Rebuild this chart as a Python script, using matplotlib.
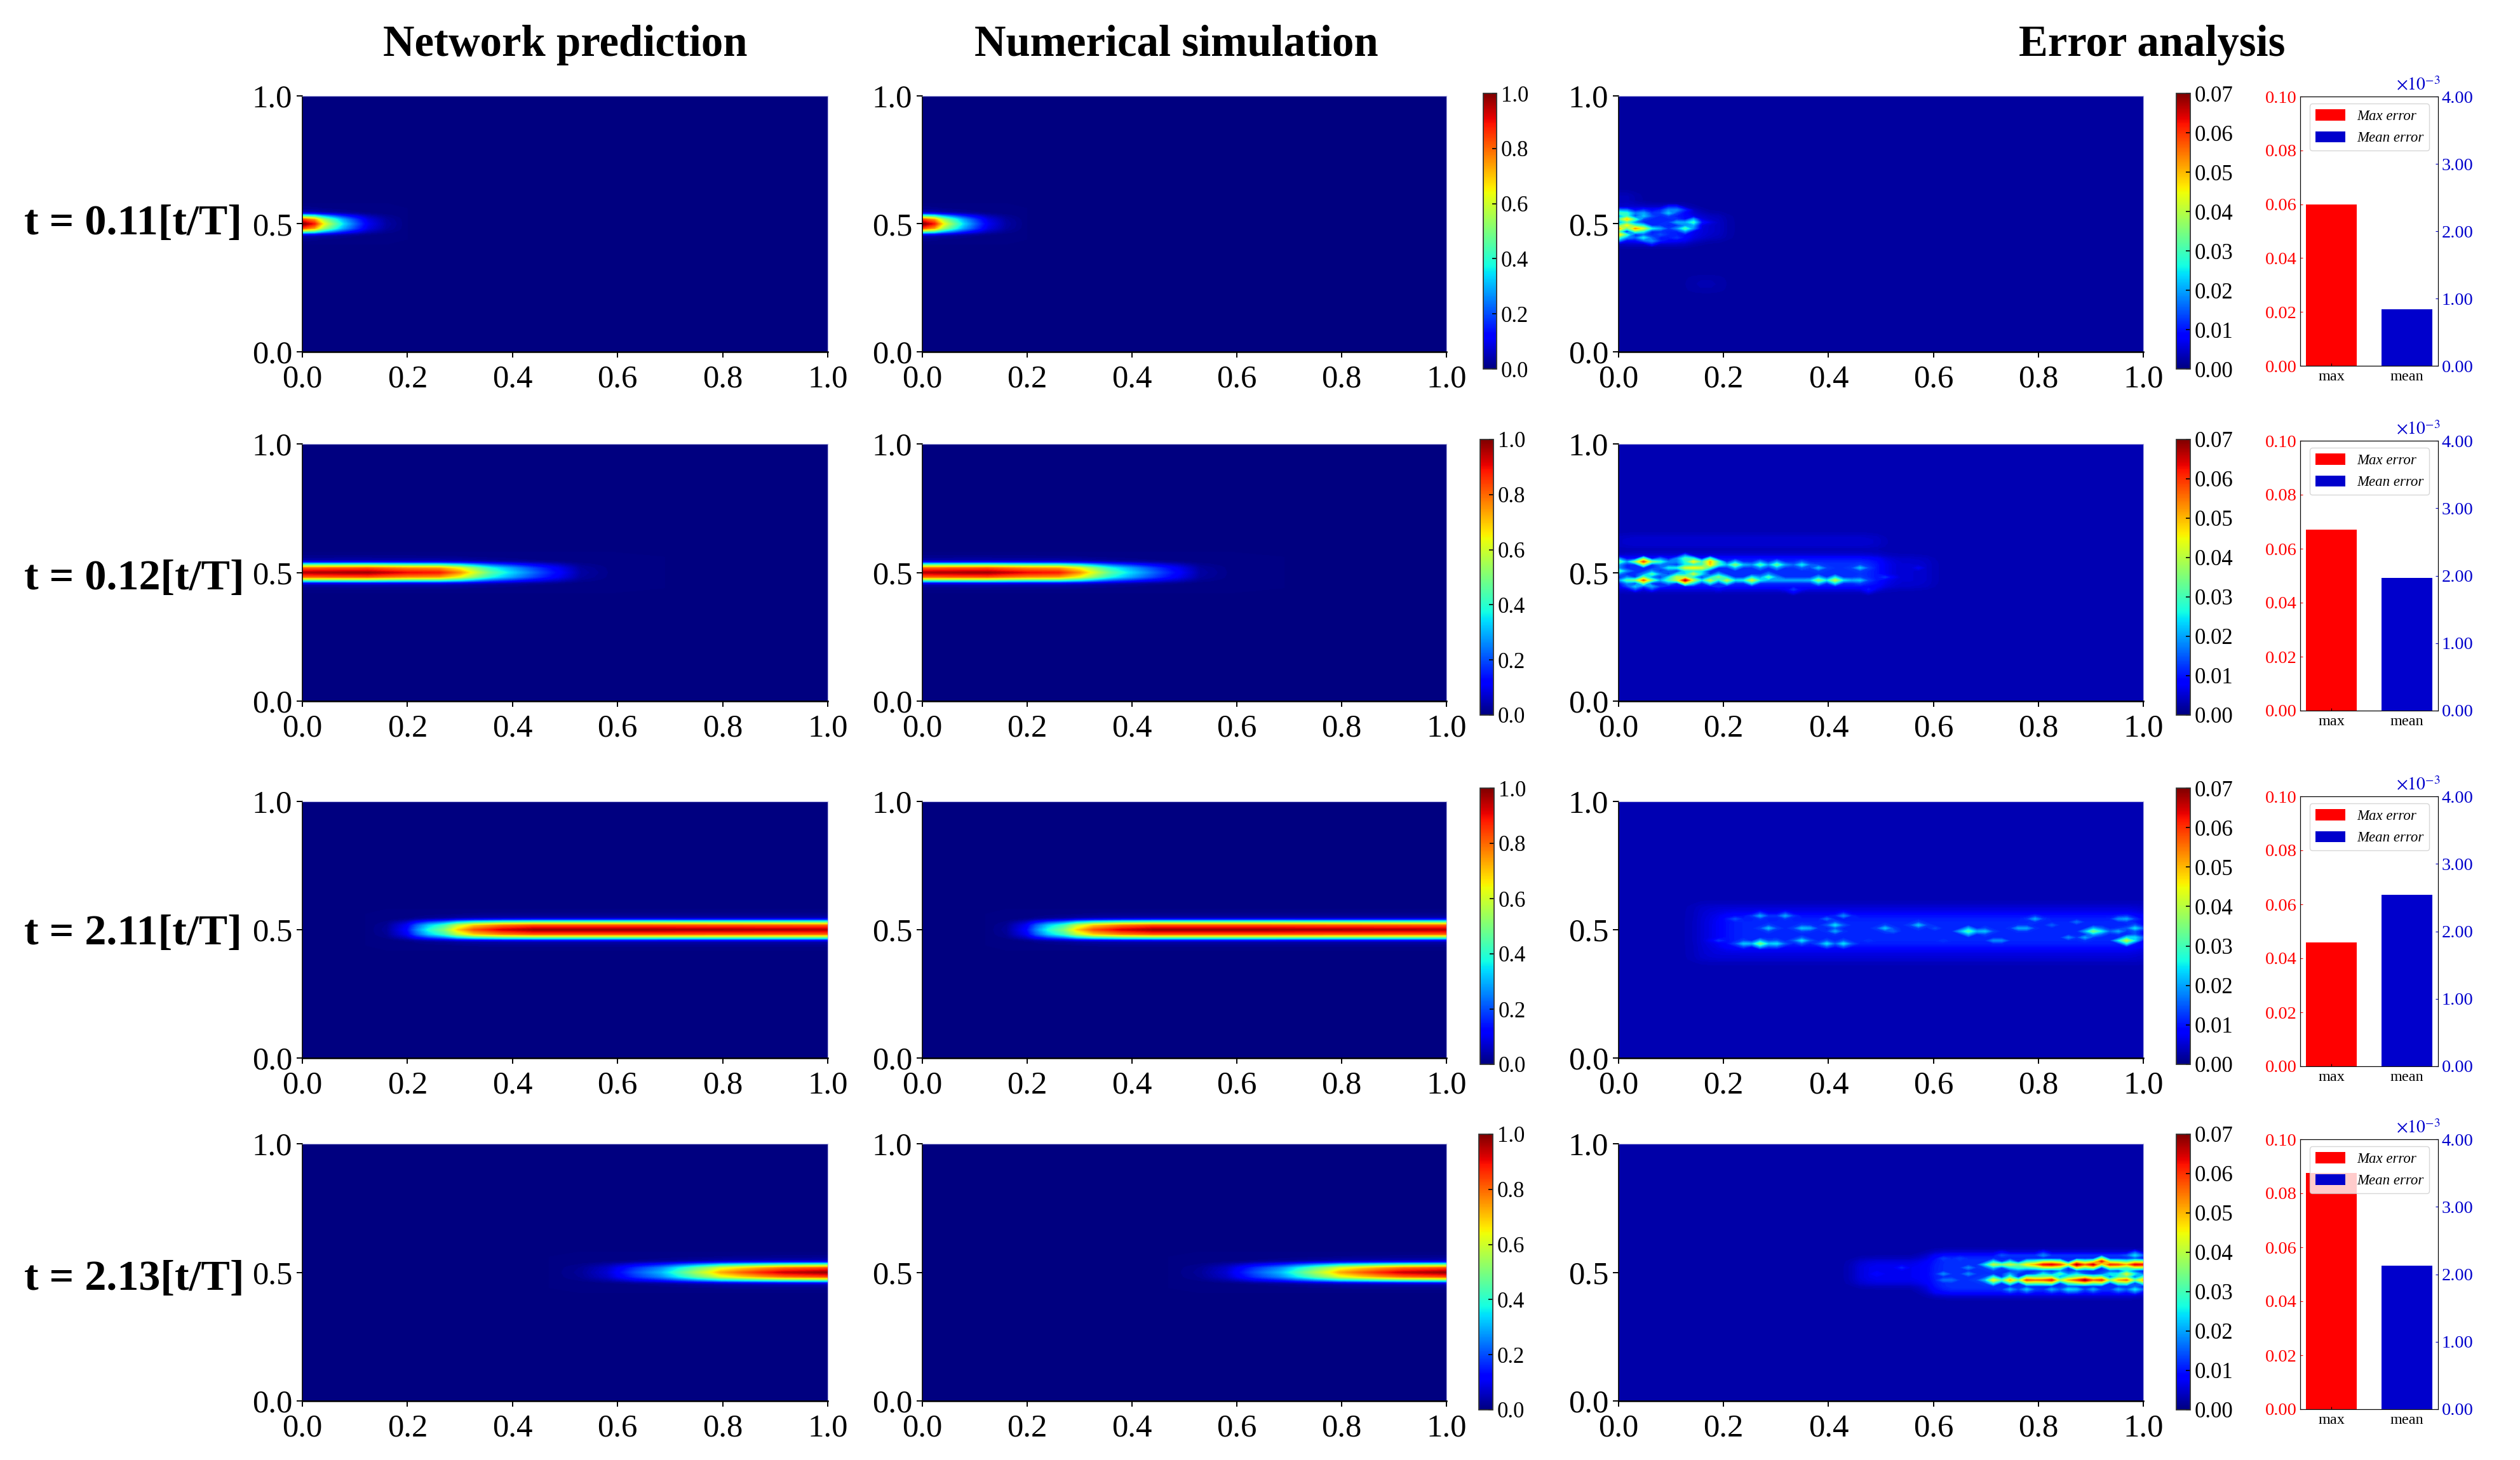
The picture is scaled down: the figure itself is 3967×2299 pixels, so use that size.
import numpy as np
import matplotlib
matplotlib.use('Agg')
import matplotlib.pyplot as plt
from matplotlib.cm import ScalarMappable
from matplotlib.colors import Normalize

plt.rcParams['font.family'] = ['Liberation Serif', 'DejaVu Serif']
plt.rcParams['mathtext.fontset'] = 'stix'

W, H = 3967, 2299

row_labels = ['t = 0.11[t/T]', 't = 0.12[t/T]', 't = 2.11[t/T]', 't = 2.13[t/T]']
col_titles = ['Network prediction', 'Numerical simulation', 'Error analysis']
bar_names = ['max', 'mean']
max_error = [0.060, 0.067, 0.046, 0.0875]
mean_error = [0.84, 1.97, 2.54, 2.13]  # x 1e-3

# plume: value on the centre line y = 0.5 read along x, one pair of lists per row
plume_x = [
    [0, .023, .04, .06, .08, .104, .125, .16, .2, 1],
    [0, .05, .125, .2, .26, .30, .325, .36, .40, .45, .487, .53, .585, .69, 1],
    [0, .12, .16, .198, .217, .24, .27, .295, .327, .38, .44, .64, 1],
    [0, .47, .53, .58, .634, .682, .715, .751, .78, .796, .836, .876, .916, 1],
]
plume_v = [
    [1.0, .88, .65, .48, .33, .20, .10, .03, 0, 0],
    [.95, .96, .97, .90, .88, .75, .62, .45, .33, .20, .12, .03, .006, 0, 0],
    [0, 0, .02, .12, .25, .38, .50, .68, .82, .92, .97, .97, .95],
    [0, 0, .02, .07, .20, .30, .42, .55, .65, .72, .80, .87, .93, .98],
]
# cross section of the plume, fraction of the centre value at y = 0.5 +- offset
section_dy = [0, .017, .025, .033, .04, .047, .06, .08, .5]
section_v = [1, .84, .62, .38, .14, .04, .012, 0, 0]

# error maps: faint patches (x0, x1, y0, y1, value), streaks (x0, x1, y, value), hot spots (x, y, value)
err_background = [.0018, .0028, .003, .0022]
err_patches = [
    [(.13, .2, .23, .30, .003), (0, .02, .57, .62, .005), (.14, .2, .44, .54, .005), (0, .14, .43, .565, .011)],
    [(0, .5, .6, .65, .005), (.5, .6, .44, .56, .005), (0, .5, .44, .56, .012)],
    [(.15, 1, .38, .6, .0055), (.15, .2, .44, .55, .006), (.2, 1, .43, .56, .011)],
    [(.45, .6, .45, .55, .007), (.6, 1, .42, .57, .012)],
]
err_streaks = [
    [],
    [(.01, .17, .541, .018), (.01, .45, .472, .02)],
    [],
    [(.71, 1, .533, .034), (.7, 1, .472, .03), (.74, 1, .436, .012), (.74, 1, .564, .012)],
]
err_spots = [
    [(.003, .483, .052), (.013, .494, .045), (.02, .519, .048), (.006, .459, .048), (.031, .481, .052),
     (.046, .48, .042), (.006, .547, .03), (.02, .547, .028), (.006, .523, .03), (.026, .498, .03),
     (.006, .44, .03), (.047, .444, .025), (.04, .531, .022), (.047, .547, .02), (.089, .547, .022),
     (.103, .552, .018), (.117, .552, .018), (.111, .506, .02), (.084, .481, .02), (.135, .502, .033),
     (.14, .506, .028), (.13, .486, .03), (.07, .436, .018), (.087, .461, .014), (.11, .444, .012),
     (.07, .531, .014), (.158, .506, .01)],
    [(.045, .541, .058), (.045, .472, .056), (.13, .471, .066), (.128, .517, .042), (.003, .541, .032),
     (.075, .537, .028), (.126, .55, .03), (.143, .541, .045), (.169, .537, .05), (.169, .53, .048),
     (.148, .517, .045), (.156, .517, .042), (.142, .492, .04), (.114, .48, .04), (.148, .47, .04),
     (.167, .472, .04), (.186, .484, .035), (.213, .472, .04), (.254, .472, .042), (.216, .531, .035),
     (.262, .533, .03), (.296, .533, .032), (.356, .533, .025), (.381, .472, .035), (.415, .472, .04),
     (.381, .52, .022), (.453, .517, .022), (.453, .472, .022), (.292, .476, .03), (.003, .505, .03),
     (.058, .488, .03), (.02, .472, .03), (.025, .447, .022), (.063, .443, .02), (.10, .472, .03),
     (.09, .52, .025), (.194, .447, .012), (.33, .439, .012), (.483, .439, .01), (.5, .484, .012),
     (.568, .52, .007)],
    [(.262, .446, .034), (.237, .446, .022), (.279, .448, .022), (.309, .446, .024), (.351, .452, .024),
     (.402, .446, .024), (.436, .448, .024), (.269, .555, .02), (.322, .555, .02), (.436, .559, .018),
     (.402, .542, .016), (.282, .503, .022), (.351, .509, .022), (.372, .509, .02), (.407, .513, .024),
     (.409, .489, .02), (.504, .505, .022), (.564, .519, .022), (.53, .489, .015), (.598, .505, .014),
     (.661, .497, .034), (.67, .495, .03), (.695, .489, .022), (.716, .456, .018), (.733, .458, .018),
     (.755, .505, .02), (.78, .505, .02), (.789, .542, .02), (.823, .514, .015), (.852, .468, .018),
     (.89, .468, .02), (.912, .495, .034), (.925, .493, .025), (.946, .489, .02), (.967, .458, .04),
     (.988, .501, .024), (.992, .468, .024), (.946, .538, .018), (.971, .538, .02), (.874, .534, .016),
     (.199, .542, .01), (.227, .541, .014), (.196, .458, .012), (.47, .46, .012), (.615, .452, .012)],
    [(.712, .533, .04), (.744, .533, .04), (.775, .533, .045), (.797, .533, .05), (.812, .533, .062),
     (.83, .533, .064), (.845, .533, .058), (.866, .533, .07), (.876, .533, .068), (.893, .533, .055),
     (.91, .533, .066), (.922, .545, .062), (.937, .533, .06), (.955, .533, .058), (.975, .533, .05),
     (.99, .533, .064), (1.0, .533, .062), (.721, .472, .045), (.749, .472, .05), (.775, .472, .058),
     (.787, .472, .055), (.81, .472, .056), (.832, .472, .062), (.855, .472, .05), (.87, .472, .058),
     (.886, .472, .068), (.905, .472, .055), (.928, .472, .06), (.948, .472, .05), (.975, .472, .055),
     (.998, .472, .05), (.75, .436, .02), (.78, .436, .022), (.82, .436, .02), (.85, .436, .024),
     (.88, .436, .022), (.91, .436, .02), (.95, .436, .02), (.99, .436, .025), (.812, .496, .025),
     (.849, .496, .03), (.868, .496, .024), (.975, .496, .042), (.93, .496, .025), (.75, .496, .02),
     (.99, .496, .025), (.76, .515, .028), (.72, .515, .022), (.619, .496, .018), (.627, .472, .018),
     (.615, .468, .016), (.639, .472, .016), (.673, .52, .018), (.673, .492, .018), (.619, .558, .013),
     (.651, .558, .013), (.547, .514, .011), (.498, .496, .009), (.691, .472, .022), (.728, .564, .014),
     (.808, .564, .018), (.978, .564, .024)],
]

# panel boxes in reference pixels
heat_cols = [(476, 1303), (1452, 2277), (2548, 3374)]
heat_rows = [(151, 554), (699, 1104), (1262, 1666), (1801, 2206)]
cbar_rows = [(147, 581), (692, 1126), (1241, 1676), (1786, 2220)]
bar_rows = [(152, 576), (694, 1119), (1254, 1679), (1794, 2219)]
cbar_mid_x = [(2335, 2356), (2330, 2351), (2330, 2352), (2328, 2350)]
cbar_err_x = (3426, 3448)
bar_x = (3621, 3838)
label_y = [352, 911, 1470, 2014]


def px_axes(fig, x0, x1, y0, y1):
    return fig.add_axes([x0 / W, 1 - y1 / H, (x1 - x0) / W, (y1 - y0) / H])


def style_heat(ax):
    ax.set_xlim(0, 1)
    ax.set_ylim(0, 1)
    ax.set_xticks([0, .2, .4, .6, .8, 1])
    ax.set_yticks([0, .5, 1])
    ax.xaxis.set_major_formatter('{x:.1f}')
    ax.yaxis.set_major_formatter('{x:.1f}')
    ax.tick_params(axis='both', labelsize=36.5, length=6.5, width=1.4)
    ax.tick_params(axis='y', pad=5)
    ax.tick_params(axis='x', pad=8)
    ax.spines['top'].set_color('#b4b4e6')
    ax.spines['right'].set_color('#b4b4e6')
    ax.spines['left'].set_linewidth(1.2)
    ax.spines['bottom'].set_linewidth(1.8)


def draw_plume(ax, i):
    dy = np.array(section_dy)
    sec = np.array(section_v)
    y = np.concatenate([.5 - dy[:0:-1], .5 + dy])
    prof = np.concatenate([sec[:0:-1], sec])
    z = np.outer(prof, np.array(plume_v[i]))
    ax.contourf(plume_x[i], y, z, levels=np.linspace(0, 1, 129), cmap='jet', vmin=0, vmax=1,
                extend='both', antialiased=False)


def soften(z):
    # blur only the faint patches so their edges do not show
    kernel = np.array([1, 2, 4, 2, 1]) / 10
    z = np.apply_along_axis(np.convolve, 0, z, kernel, mode='same')
    z = np.apply_along_axis(np.convolve, 1, z, kernel, mode='same')
    return z


def draw_error(ax, i):
    gx = np.linspace(0, 1, 64)
    gy = np.linspace(0, 1, 84)
    pad = np.full((84 + 8, 64 + 8), err_background[i])
    base = pad[4:-4, 4:-4]
    for x0, x1, y0, y1, v in err_patches[i]:
        jx = (gx >= x0) & (gx <= x1)
        jy = (gy >= y0) & (gy <= y1)
        base[np.ix_(jy, jx)] = v
    z = soften(pad)[4:-4, 4:-4]
    for x0, x1, y, v in err_streaks[i]:
        jx = (gx >= x0) & (gx <= x1)
        z[np.abs(gy - y).argmin(), jx] = v
    for x, y, v in err_spots[i]:
        r = np.abs(gy - y).argmin()
        c = np.abs(gx - x).argmin()
        for dr, dc in [(0, -1), (0, 1), (-1, 0), (1, 0)]:
            if 0 <= r + dr < 84 and 0 <= c + dc < 64:
                z[r + dr, c + dc] = max(z[r + dr, c + dc], .6 * v)
        z[r, c] = v
    ax.contourf(gx, gy, z, levels=np.linspace(0, .07, 129), cmap='jet', vmin=0, vmax=.07,
                extend='both', antialiased=False)


def draw_cbar(fig, box, vmax, ticks, fmt):
    cax = px_axes(fig, *box)
    cb = fig.colorbar(ScalarMappable(Normalize(0, vmax), cmap='jet'), cax=cax)
    cb.set_ticks(ticks)
    cb.ax.yaxis.set_major_formatter(fmt)
    cb.ax.tick_params(labelsize=25, direction='in', length=5, width=1.2, pad=5)
    cb.outline.set_linewidth(1.3)
    cb.outline.set_edgecolor('#333333')


def draw_bars(fig, box, i):
    ax = px_axes(fig, *box)
    bar1 = ax.bar([0], [max_error[i]], width=.675, color='#ff0000')
    ax.set_xlim(-.414, 1.41)
    ax.set_ylim(0, .1)
    ax.set_xticks([0, 1], bar_names)
    ax.set_yticks([0, .02, .04, .06, .08, .1])
    ax.yaxis.set_major_formatter('{x:.2f}')
    ax.tick_params(axis='y', direction='in', length=3, colors='#ff0000', labelsize=20.5, pad=4)
    ax.tick_params(axis='x', direction='in', length=3, labelsize=17.5, pad=5)
    ax2 = ax.twinx()
    bar2 = ax2.bar([1], [mean_error[i]], width=.675, color='#0000cc')
    ax2.set_ylim(0, 4)
    ax2.set_yticks([0, 1, 2, 3, 4])
    ax2.yaxis.set_major_formatter('{x:.2f}')
    ax2.tick_params(axis='y', direction='in', length=3, colors='#0000cc', labelsize=20.5, pad=4)
    ax2.text(1.015, 1.008, r'$\times 10^{-3}$', transform=ax2.transAxes, ha='right', va='bottom',
             color='#0000cc', fontsize=20)
    ax2.legend([bar1[0], bar2[0]], ['Max error', 'Mean error'], loc='upper left',
               bbox_to_anchor=(.067, .974), borderaxespad=0, prop={'style': 'italic', 'size': 16.5},
               handlelength=2.05, handleheight=.8, handletextpad=.8, labelspacing=.55, borderpad=.4)


fig = plt.figure(figsize=(W / 100, H / 100), dpi=100)

for i in range(4):
    y0, y1 = heat_rows[i]
    for c in range(3):
        ax = px_axes(fig, heat_cols[c][0], heat_cols[c][1], y0, y1)
        ax.set_facecolor('#000080')
        if c < 2:
            draw_plume(ax, i)
        else:
            draw_error(ax, i)
        style_heat(ax)
    draw_cbar(fig, cbar_mid_x[i] + cbar_rows[i], 1.0, [0, .2, .4, .6, .8, 1], '{x:.1f}')
    draw_cbar(fig, cbar_err_x + cbar_rows[i], .07, [0, .01, .02, .03, .04, .05, .06, .07], '{x:.2f}')
    draw_bars(fig, bar_x + bar_rows[i], i)
    fig.text(38 / W, 1 - label_y[i] / H, row_labels[i], fontsize=49, fontweight='bold', ha='left', va='center')

for name, cx in zip(col_titles, [890, 1852, 3388]):
    fig.text(cx / W, 1 - 71 / H, name, fontsize=49.5, fontweight='bold', ha='center', va='center')

fig.savefig('out.png', dpi=100)
